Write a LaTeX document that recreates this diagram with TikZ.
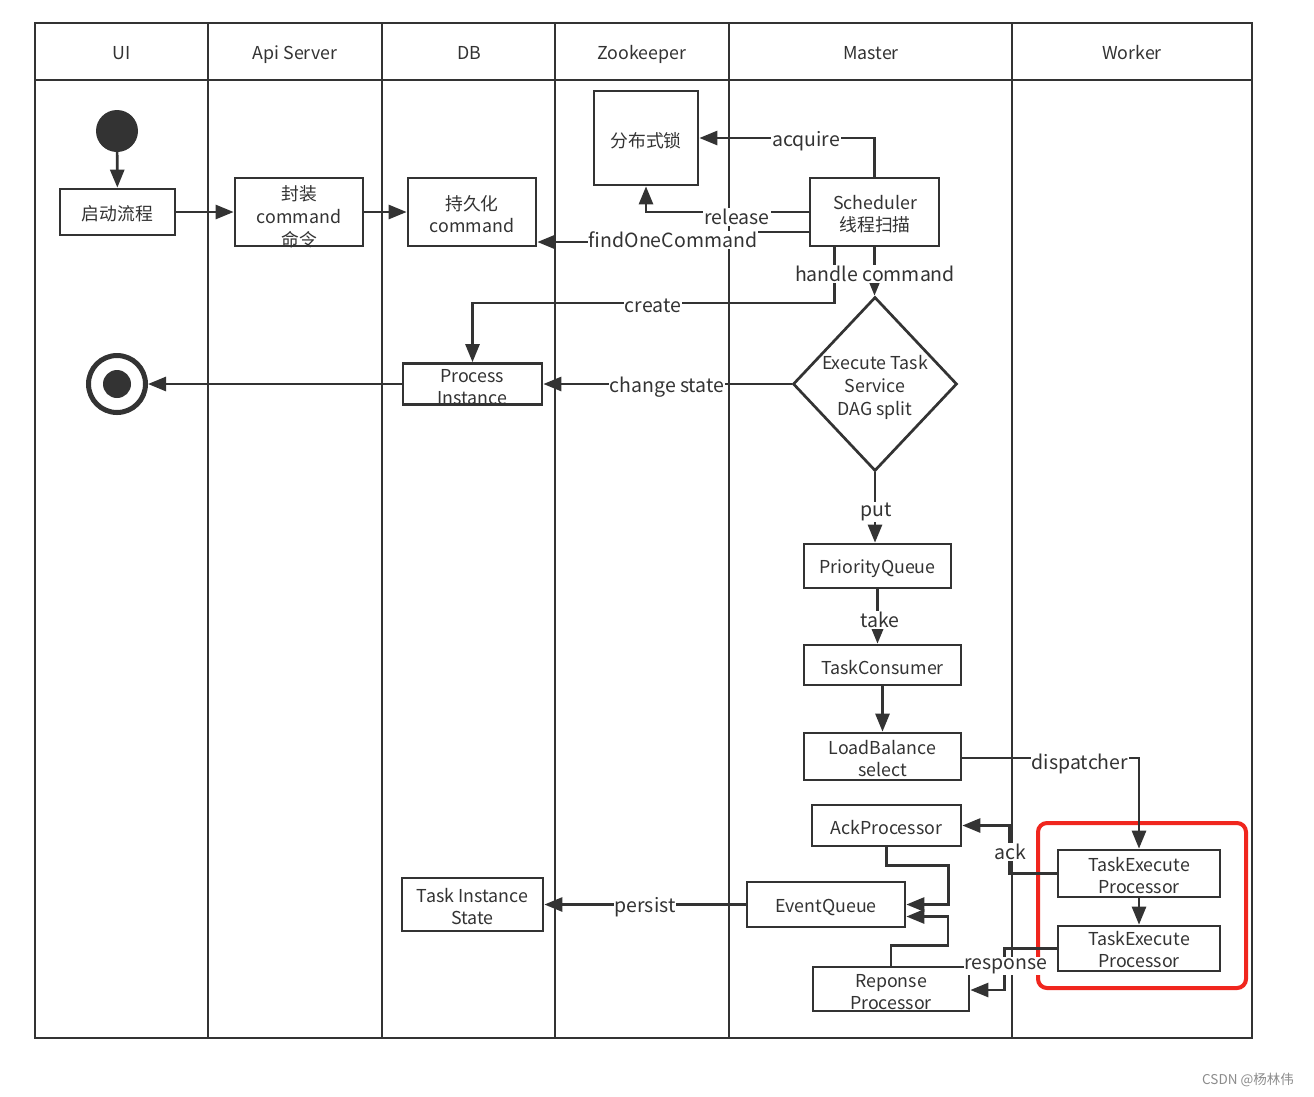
\documentclass[tikz,border=0pt]{standalone}
\usepackage{fontspec}
\setmainfont{Noto Sans CJK SC}
\usetikzlibrary{arrows.meta,shapes.geometric,calc}
\definecolor{ink}{HTML}{333333}
\definecolor{redbox}{HTML}{F0261E}
\begin{document}
\begin{tikzpicture}[x=1pt,y=-1pt,
  lane/.style={draw=ink,line width=2.8pt},
  hdr/.style={text=ink,inner sep=0pt,anchor=base,font=\fontsize{17.8}{20}\selectfont},
  box/.style={draw=ink,line width=2.7pt,fill=white,inner sep=0pt},
  txt/.style={text=ink,inner sep=0pt,align=center,font=\fontsize{17.8}{22}\selectfont},
  conn/.style={draw=ink,line width=2.7pt,-{Triangle[length=18pt,width=14pt]}},
  lbl/.style={fill=white,text=ink,inner sep=1pt,font=\fontsize{19.5}{22}\selectfont},
]
\useasboundingbox (0,0) rectangle (1314,1096);
\fill[white] (0,0) rectangle (1314,1096);

% swimlanes
\draw[lane] (35,23) rectangle (1252,1038);
\draw[lane] (35,80) -- (1252,80);
\foreach \x in {208,382,555,729,1012} \draw[lane] (\x,23) -- (\x,1038);
\node[hdr] (hUI) at (122,59.5) {UI};
\node[hdr] (hApi) at (295,59.5) {Api Server};
\node[hdr] (hDB) at (469,59.5) {DB};
\node[hdr] (hZk) at (642,59.5) {Zookeeper};
\node[hdr] (hMa) at (871,59.5) {Master};
\node[hdr] (hWo) at (1132,59.5) {Worker};

% shapes
\node[circle,fill=ink,minimum size=42pt,inner sep=0pt] (start) at (117,131) {};
\node[box,minimum width=115pt,minimum height=46pt] (s1) at (117.5,212) {};
\node[box,minimum width=128pt,minimum height=68pt] (s2) at (299,212) {};
\node[box,minimum width=128pt,minimum height=68pt] (s3) at (472,212) {};
\node[box,minimum width=104pt,minimum height=94pt] (lock) at (646,138) {};
\node[box,minimum width=129pt,minimum height=68pt] (sched) at (874.5,212) {};
\node[diamond,draw=ink,line width=2.7pt,fill=white,minimum width=164pt,minimum height=174pt,inner sep=0pt] (dia) at (875,384) {};
\node[box,minimum width=139pt,minimum height=41pt] (pi) at (472.5,384) {};
\node[circle,draw=ink,line width=5pt,minimum size=57pt,inner sep=0pt] (end) at (117,384) {};
\fill[ink] (end.center) circle (14pt);
\node[box,minimum width=147pt,minimum height=44pt] (pq) at (877.5,566) {};
\node[box,minimum width=157pt,minimum height=40pt] (tc) at (882.5,665) {};
\node[box,minimum width=157pt,minimum height=47pt] (lb) at (882.5,756.5) {};
\node[box,minimum width=149pt,minimum height=41pt] (ack) at (886.5,825.5) {};
\node[box,minimum width=158pt,minimum height=45pt] (eq) at (826,904.5) {};
\node[box,minimum width=156pt,minimum height=44pt] (rp) at (891,989) {};
\node[box,minimum width=141pt,minimum height=53pt] (tis) at (472.5,904.5) {};
\node[box,minimum width=162pt,minimum height=47pt] (tep1) at (1139,873.5) {};
\node[box,minimum width=162pt,minimum height=45pt] (tep2) at (1139,948.5) {};
\node[draw=redbox,line width=4pt,rounded corners=9pt,minimum width=208pt,minimum height=165pt] (hl) at (1142,905.5) {};

% texts
\node[txt] (s1t) at (117.5,213.5) {启动流程};
\begin{scope}
  \clip (s2.south west) rectangle (s2.north east);
  \node[txt,font=\fontsize{17.8}{23}\selectfont] (s2t) at (299,217) {封装\\command\\命令};
\end{scope}
\node[txt] (s3t) at (472,214) {持久化\\command};
\node[txt] (lockt) at (646,140.5) {分布式锁};
\node[txt] (schedt) at (875,214) {Scheduler\\线程扫描};
\node[txt,font=\fontsize{17.8}{23}\selectfont] (diat) at (875,387) {Execute Task\\Service\\DAG split};
\node[txt] (pit) at (472,387) {Process\\Instance};
\node[txt] (pqt) at (877.5,568.5) {PriorityQueue};
\node[txt] (tct) at (882.5,667.5) {TaskConsumer};
\node[txt] (lbt) at (882.5,759) {LoadBalance\\select};
\node[txt] (ackt) at (886.5,827.5) {AckProcessor};
\node[txt] (eqt) at (826,907) {EventQueue};
\node[txt] (rpt) at (891,992) {Reponse\\Processor};
\node[txt] (tist) at (472.5,907) {Task Instance\\State};
\node[txt] (tep1t) at (1139,875.5) {TaskExecute\\Processor};
\node[txt] (tep2t) at (1139,950) {TaskExecute\\Processor};

% connectors
\draw[conn] (start) -- (s1);
\draw[conn] (s1) -- (s2);
\draw[conn] (s2) -- (s3);
\draw[conn] (sched.north) |- (lock.east) node[lbl] at (806,141) {acquire};
\draw[conn] (sched.west) -| (lock.south) node[lbl] at (737,217) {release};
\draw[conn] ([yshift=-20pt]sched.west) -- ++(-110,0) |- ([yshift=-30pt]s3.east) node[lbl] at (673,240) {findOneCommand};
\draw[conn] ([xshift=-40pt]sched.south) -- (834.5,303) -| (pi.north) node[lbl] at (653,306) {create};
\draw[conn] (sched.south) -- (sched.south |- dia.north) node[lbl] at (875,274) {handle command};
\draw[conn] (dia.west) -- (pi.east) node[lbl] at (667,387.5) {change state};
\draw[conn] (pi.west) -- (end);
\draw[conn] (dia.south) -- (dia.south |- pq.north) node[lbl] at (876,512) {put};
\draw[conn] (pq.south) -- (pq.south |- tc.north) node[lbl] at (880,620) {take};
\draw[conn] ([yshift=-1.5pt]lb.east) -| (tep1.north) node[lbl] at (1080,764) {dispatcher};
\draw[conn] (tc.south) -- (lb.north);
\draw[conn] (tep1.south) -- (tep2.north);
\draw[conn] (tep1.west) -- ++(-47,0) |- (ack.east) node[lbl] at (1010,852) {ack};
\draw[conn] (tep2.west) -- ++(-52,0) |- ([yshift=-1pt]rp.east) node[lbl] at (1006,966) {response};
\draw[conn] (ack.south) -- ++(0,18) -- ++(62,0) |- (eq.east);
\draw[conn] (rp.north) -- ++(0,-20) -- ++(57,0) |- ([yshift=-12pt]eq.east);
\draw[conn] (eq.west) -- (tis.east) node[lbl] at (645,907) {persist};

\node[text=black!45,font=\fontsize{13.5}{13.5}\selectfont] (wm) at (1248,1080) {CSDN @杨林伟};
\end{tikzpicture}
\end{document}
